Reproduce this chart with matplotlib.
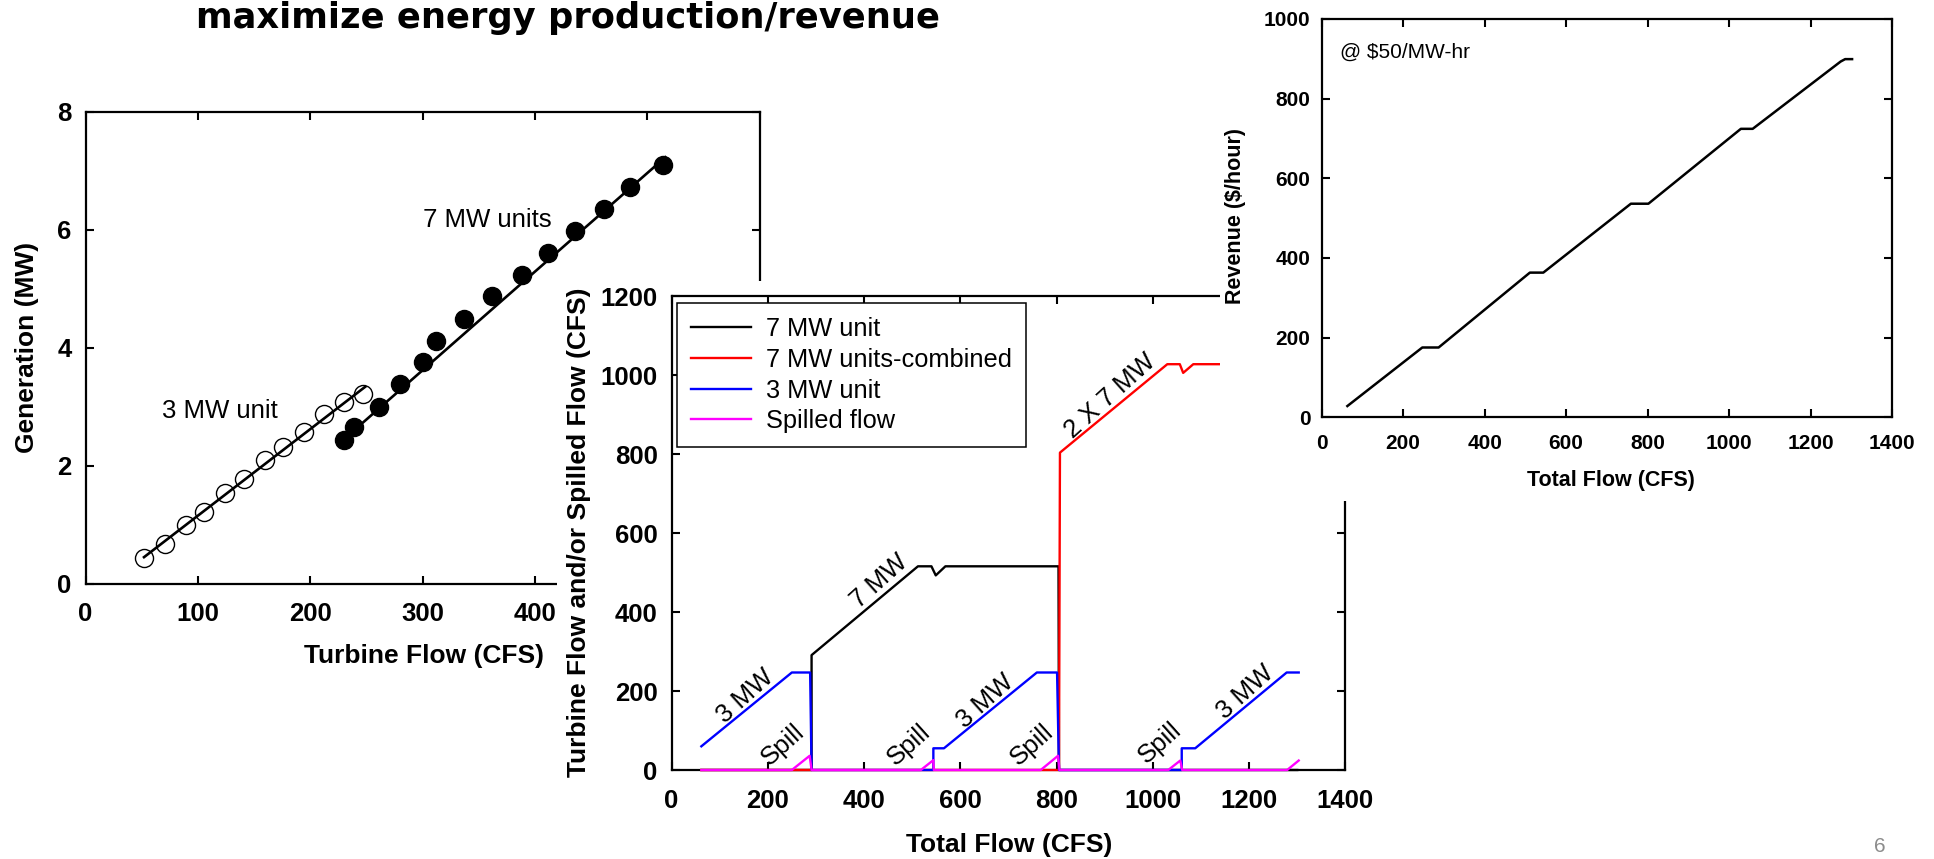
import matplotlib
matplotlib.use('Agg')
import matplotlib.pyplot as plt
from matplotlib.patches import Rectangle

plt.rcParams['font.family'] = ['Liberation Sans', 'DejaVu Sans']

# left chart: generation vs turbine flow
flow_3mw = [52, 71, 89, 105, 124, 141, 160, 176, 194, 212, 230, 247]
gen_3mw = [0.44, 0.68, 0.99, 1.22, 1.54, 1.78, 2.09, 2.32, 2.57, 2.87, 3.08, 3.21]
fit_3mw_x = [52, 249]
fit_3mw_y = [0.45, 3.34]
flow_7mw = [230, 239, 261, 280, 300, 312, 337, 362, 388, 412, 436, 461, 485, 514]
gen_7mw = [2.43, 2.65, 3.00, 3.39, 3.75, 4.12, 4.49, 4.87, 5.24, 5.61, 5.98, 6.36, 6.73, 7.10]
fit_7mw_x = [233, 516]
fit_7mw_y = [2.50, 7.23]
left_xticks = [0, 100, 200, 300, 400, 500, 600]
left_xlabels = ['0', '100', '200', '300', '400', '', '']   # 500, 600 sit under the middle picture

# middle chart: flow split between units
unit7_x = [62, 291, 291, 512, 540, 549, 569, 804, 805, 1300]
unit7_y = [0, 0, 291, 516, 516, 493, 516, 516, 0, 0]
comb7_x = [62, 805, 807, 1030, 1056, 1063, 1084, 1300]
comb7_y = [0, 0, 804, 1028, 1028, 1006, 1028, 1028]
unit3_x = [62, 250, 288, 291, 544, 544, 566, 759, 801, 805, 1060, 1060, 1088, 1278, 1303]
unit3_y = [60, 247, 247, 0, 0, 55, 55, 247, 247, 0, 0, 55, 55, 247, 247]
spill_x = [62, 250, 287, 291, 518, 544, 545, 767, 803, 806, 1032, 1057, 1061, 1279, 1303]
spill_y = [0, 0, 36, 0, 0, 25, 0, 0, 36, 0, 0, 24, 0, 0, 24]
series_labels = ['7 MW unit', '7 MW units-combined', '3 MW unit', 'Spilled flow']
notes_text = ['3 MW', 'Spill', '7 MW', 'Spill', '3 MW', 'Spill', '2 X 7 MW', 'Spill', '3 MW']
notes_x = [153, 232, 431, 493, 651, 748, 911, 1015, 1193]
notes_y = [187, 63, 479, 65, 175, 65, 947, 68, 198]

# right chart: revenue
rev_x = [63, 247, 287, 511, 544, 759, 802, 1029, 1058, 1274, 1285, 1302]
rev_y = [28, 175, 175, 363, 363, 536, 536, 724, 724, 893, 899, 899]

W, H = 1934, 859
fig = plt.figure(figsize=(W / 100, H / 100), dpi=100)


def box(l, t, r, b):
    # pixel box measured from the top-left corner -> figure fraction rect
    return [l / W, 1 - b / H, (r - l) / W, (b - t) / H]


def style(ax, fs, xpad, ypad):
    for s in ax.spines.values():
        s.set_linewidth(1.6)
    ax.tick_params(direction='in', top=True, right=True, length=6, width=1.5, labelsize=fs)
    ax.tick_params(axis='x', pad=xpad)
    ax.tick_params(axis='y', pad=ypad)
    plt.setp(ax.get_xticklabels() + ax.get_yticklabels(), fontweight='bold')


# ---- left
ax1 = fig.add_axes(box(85.6, 111.8, 759.7, 583.7))
ax1.set_zorder(1)
ax1.plot(fit_3mw_x, fit_3mw_y, color='black', lw=1.9)
ax1.plot(flow_3mw, gen_3mw, 'o', ms=13, mfc='none', mec='black', mew=1.0)
ax1.plot(fit_7mw_x, fit_7mw_y, color='black', lw=1.9)
ax1.plot(flow_7mw, gen_7mw, 'o', ms=13, mfc='black', mec='black')
ax1.set_xlim(0, 600)
ax1.set_ylim(0, 8)
ax1.set_xticks(left_xticks)
ax1.set_xticklabels(left_xlabels)
ax1.set_yticks(range(0, 9, 2))
style(ax1, 18.5, 13.5, 10)
ax1.text(300, 6.17, '7 MW units', fontsize=18.5, va='center', ha='left')
ax1.text(68, 2.92, '3 MW unit', fontsize=18.5, va='center', ha='left')
ax1.set_xlabel('Turbine Flow (CFS)', fontsize=19, fontweight='bold')
ax1.set_ylabel('Generation (MW)', fontsize=19, fontweight='bold')
ax1.xaxis.set_label_coords(0.502, -0.153)
ax1.xaxis.label.set_va('center')
ax1.yaxis.set_label_coords(-0.087, 0.5)
ax1.yaxis.label.set_va('center')

# white background of the middle picture
fig.add_artist(Rectangle((557 / W, 0), (1400 - 557) / W, 1 - 281 / H,
                         transform=fig.transFigure, facecolor='white', edgecolor='none', zorder=2))

# ---- middle
ax2 = fig.add_axes(box(671.5, 296.3, 1345.4, 770))
ax2.set_zorder(3)
ax2.plot(unit7_x, unit7_y, color='black', lw=1.7, label=series_labels[0], zorder=3, clip_on=False)
ax2.plot(comb7_x, comb7_y, color='#ff0000', lw=1.7, label=series_labels[1], zorder=3, clip_on=False)
ax2.plot(unit3_x, unit3_y, color='#0000ff', lw=1.7, label=series_labels[2], zorder=3, clip_on=False)
ax2.plot(spill_x, spill_y, color='#ff00ff', lw=1.7, label=series_labels[3], zorder=3, clip_on=False)
ax2.set_xlim(0, 1400)
ax2.set_ylim(0, 1200)
ax2.set_xticks(range(0, 1401, 200))
ax2.set_yticks(range(0, 1201, 200))
style(ax2, 18.5, 13.5, 10)
for t, x, y in zip(notes_text, notes_x, notes_y):
    ax2.text(x, y, t, fontsize=18.5, rotation=42, rotation_mode='anchor', ha='center', va='center')
leg = ax2.legend(loc='upper left', bbox_to_anchor=(0.0082, 0.9852), borderaxespad=0,
                 fontsize=18.3, fancybox=False, framealpha=1, edgecolor='black',
                 handlelength=2.36, handletextpad=0.6, labelspacing=0.26, borderpad=0.55)
leg.get_frame().set_linewidth(1.1)
leg.set_zorder(5)
ax2.set_xlabel('Total Flow (CFS)', fontsize=19, fontweight='bold')
ax2.set_ylabel('Turbine Flow and/or Spilled Flow (CFS)', fontsize=19, fontweight='bold')
ax2.xaxis.set_label_coords(0.501, -0.158)
ax2.xaxis.label.set_va('center')
ax2.yaxis.set_label_coords(-0.137, 0.502)
ax2.yaxis.label.set_va('center')

# white background of the revenue picture
fig.add_artist(Rectangle((1220 / W, 1 - 501 / H), (W - 1220) / W, 501 / H,
                         transform=fig.transFigure, facecolor='white', edgecolor='none', zorder=4))

# ---- right
ax3 = fig.add_axes(box(1321.7, 18.9, 1892, 417.2))
ax3.set_zorder(5)
ax3.plot(rev_x, rev_y, color='black', lw=1.8)
ax3.set_xlim(0, 1400)
ax3.set_ylim(0, 1000)
ax3.set_xticks(range(0, 1401, 200))
ax3.set_yticks(range(0, 1001, 200))
style(ax3, 15, 12, 8)
ax3.text(45, 917, '@ $50/MW-hr', fontsize=15, va='center', ha='left')
ax3.set_xlabel('Total Flow (CFS)', fontsize=15.5, fontweight='bold')
ax3.set_ylabel('Revenue ($/hour)', fontsize=15.5, fontweight='bold')
ax3.xaxis.set_label_coords(0.507, -0.160)
ax3.xaxis.label.set_va('center')
ax3.yaxis.set_label_coords(-0.152, 0.505)
ax3.yaxis.label.set_va('center')

fig.text(567.6 / W, 1 - 28 / H, 'maximize energy production/revenue', fontsize=25.4,
         fontweight='bold', family='DejaVu Sans', ha='center', va='baseline', zorder=6)
fig.text(1880 / W, 1 - 847 / H, '6', color='#8c8c8c', fontsize=15, ha='center', va='center', zorder=6)

fig.savefig('out.png', dpi=100, facecolor='white')
